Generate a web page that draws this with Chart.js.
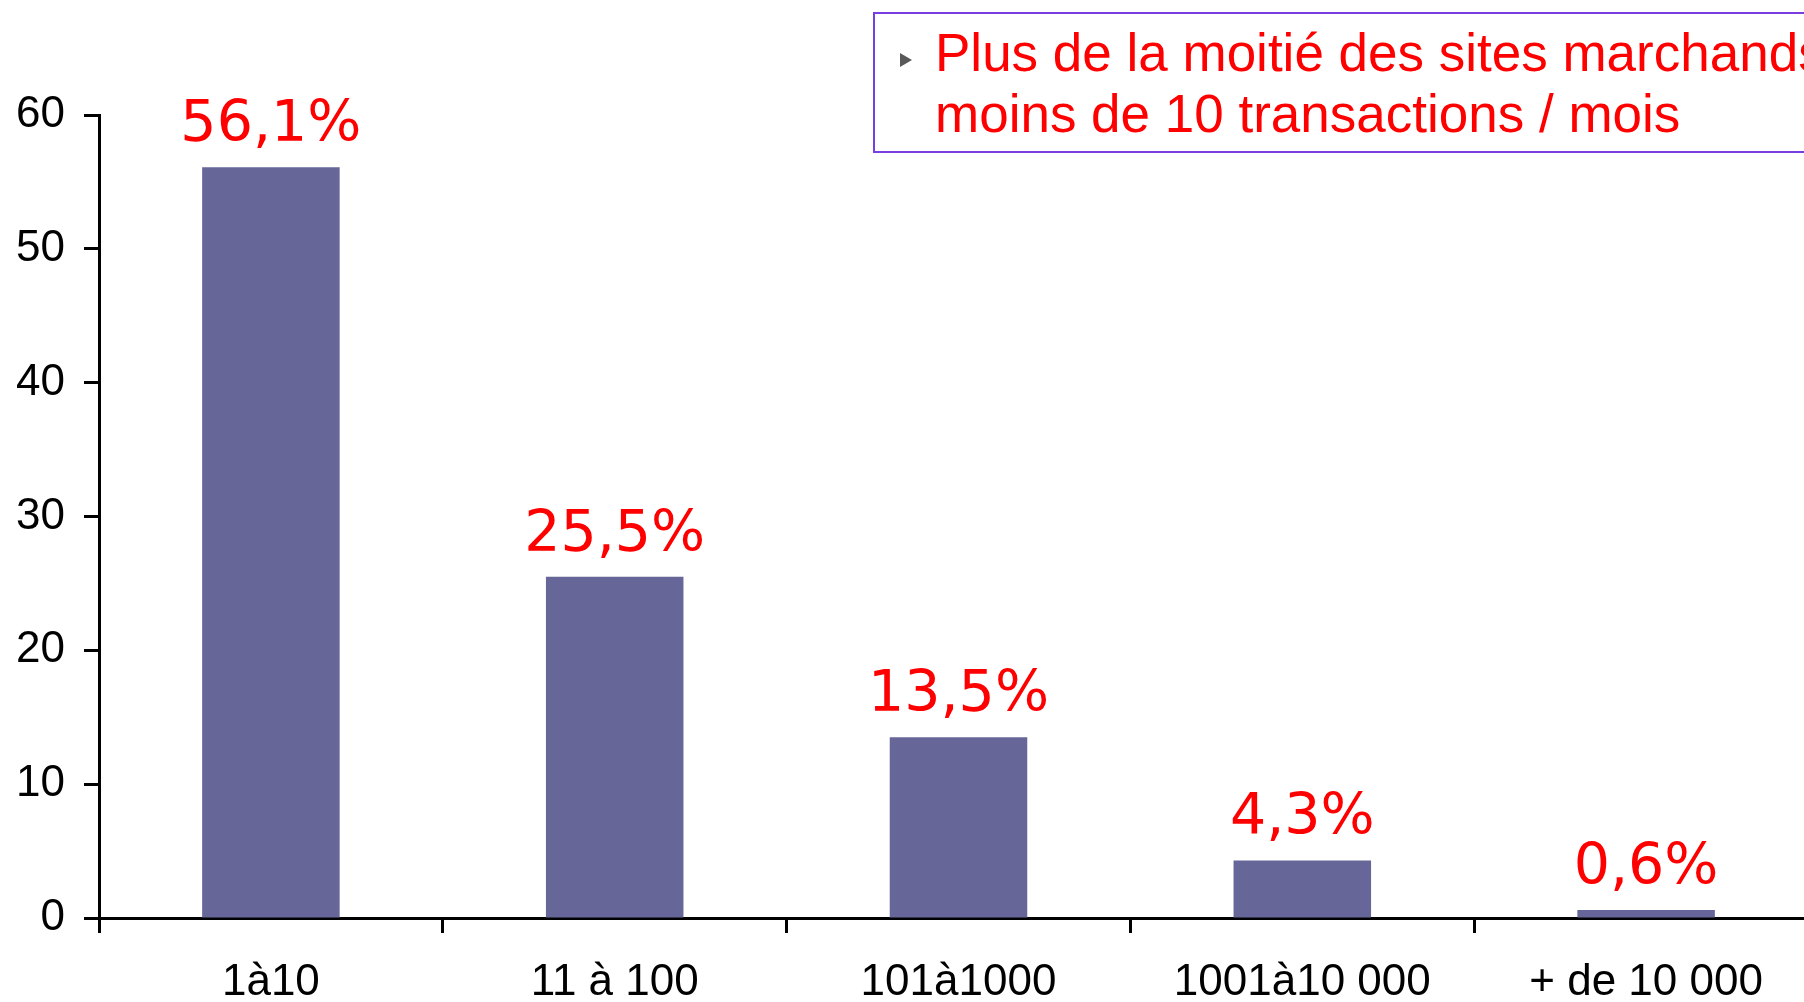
<!DOCTYPE html>
<html>
<head>
<meta charset="utf-8">
<script src="https://cdn.jsdelivr.net/npm/chart.js@4.4.1/dist/chart.umd.min.js"></script>
<style>
    body { margin: 0; background: #fff; overflow: hidden; width: 1804px; height: 1002px; position: relative; }
    #chartBox { position: absolute; left: 0; top: 0; }
    #note {
        position: absolute; left: 873px; top: 12px; width: 1100px; height: 137px;
        border: 2px solid #7a3ee0; box-sizing: content-box;
        font-family: "Liberation Sans", Arial, sans-serif; font-size: 53px; line-height: 61px;
        color: #ff0000; white-space: nowrap;
    }
    #note .txt { position: absolute; left: 60px; top: 8px; }
    #note .puce {
        position: absolute; left: 25px; top: 39px; width: 0; height: 0;
        border-left: 12px solid #595959; border-top: 7px solid transparent; border-bottom: 7px solid transparent;
    }
</style>
</head>
<body>
<div id="chartBox"><canvas id="transChart" width="1830" height="1002"></canvas></div>
<div id="note">
    <div class="puce"></div>
    <div class="txt">Plus de la moitié des sites marchands ont<br>moins de 10 transactions / mois</div>
</div>
<script>
var aCategories = ["1à10", "11 à 100", "101à1000", "1001à10 000", "+ de 10 000"];
var aValeurs = [56.1, 25.5, 13.5, 4.3, 0.6];
var aEtiquettes = ["56,1%", "25,5%", "13,5%", "4,3%", "0,6%"];
var aTicksY = [0, 10, 20, 30, 40, 50, 60];

// etiquettes rouges au-dessus des barres
var pluginEtiquettes = {
    id: 'etiquettes',
    afterDatasetsDraw: function (chart) {
        var ctx = chart.ctx;
        var meta = chart.getDatasetMeta(0);
        ctx.save();
        ctx.font = '57px "DejaVu Sans", Verdana, sans-serif';
        ctx.fillStyle = '#ff0000';
        ctx.textAlign = 'center';
        ctx.textBaseline = 'alphabetic';
        meta.data.forEach(function (bar, i) {
            ctx.fillText(aEtiquettes[i], bar.x, bar.y - 26);
        });
        ctx.restore();
    }
};

var policeAxe = { family: '"Liberation Sans", Arial, sans-serif', size: 44 };

var oTransChart = new Chart(document.getElementById("transChart"), {
    type: 'bar',
    data: {
        labels: aCategories,
        datasets: [{
            data: aValeurs,
            backgroundColor: '#666699',
            borderWidth: 0,
            categoryPercentage: 1,
            barPercentage: 0.4
        }]
    },
    options: {
        responsive: false,
        animation: false,
        layout: { padding: { top: 115, right: 12, left: 0, bottom: 0 } },
        plugins: { legend: { display: false }, tooltip: { enabled: false } },
        scales: {
            x: {
                grid: {
                    display: true, drawOnChartArea: false, drawTicks: true, offset: true,
                    tickLength: 15, tickWidth: 3, tickColor: '#000'
                },
                border: { display: true, color: '#000', width: 3 },
                ticks: { color: '#000', font: policeAxe, padding: 23, maxRotation: 0, autoSkip: false },
                afterFit: function (scale) { scale.height = 84; }
            },
            y: {
                min: 0,
                max: 60,
                afterBuildTicks: function (scale) {
                    scale.ticks = aTicksY.map(function (v) { return { value: v }; });
                },
                grid: {
                    display: true, drawOnChartArea: false, drawTicks: true,
                    tickLength: 15, tickWidth: 3, tickColor: '#000'
                },
                border: { display: true, color: '#000', width: 3 },
                ticks: { color: '#000', font: policeAxe, padding: 19 },
                afterFit: function (scale) { scale.width = 99; }
            }
        }
    },
    plugins: [pluginEtiquettes]
});
</script>
</body>
</html>
